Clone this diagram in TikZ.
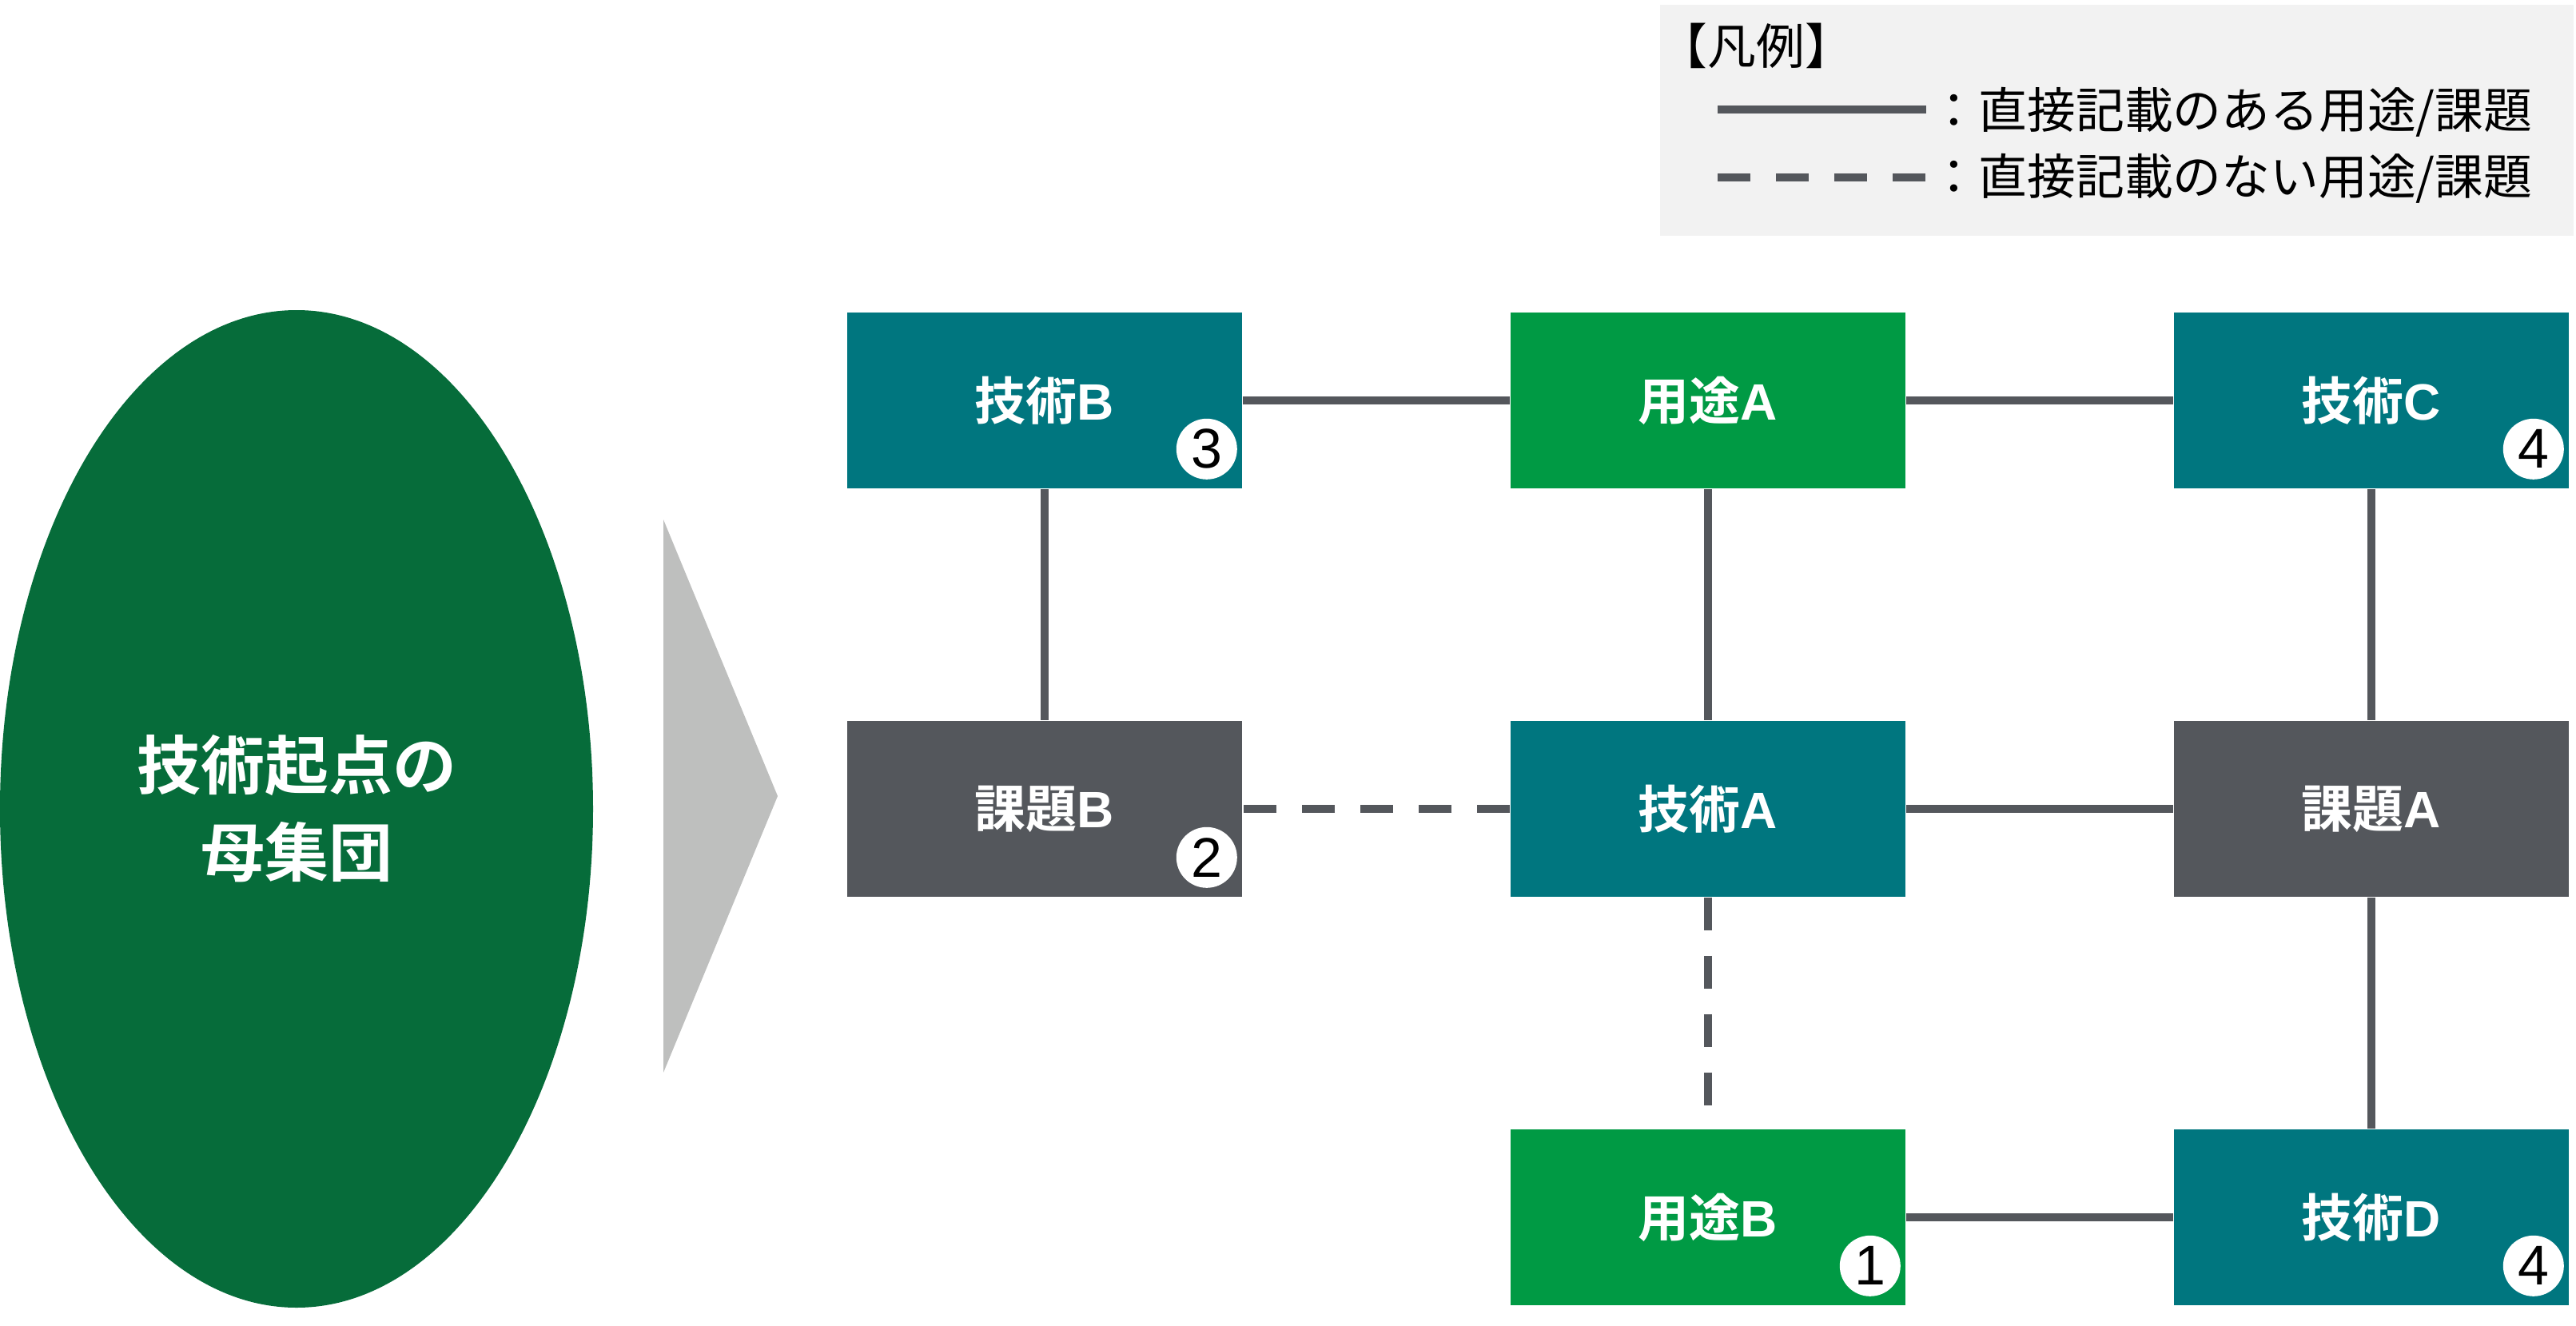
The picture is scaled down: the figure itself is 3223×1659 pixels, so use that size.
\documentclass[tikz,border=0pt]{standalone}
\usepackage{fontspec}
\usetikzlibrary{shapes.geometric,calc}
\newfontfamily\jp{Noto Sans CJK JP}[BoldFont={Noto Sans CJK JP Bold}]
\newfontfamily\numfont{Liberation Sans}
\newcommand\Lt[1]{{\numfont\bfseries #1}}
\definecolor{techc}{HTML}{00767F}
\definecolor{usec}{HTML}{009A44}
\definecolor{issuec}{HTML}{54575C}
\definecolor{linec}{HTML}{54575C}
\definecolor{ellc}{HTML}{066C3A}
\definecolor{tric}{HTML}{BEBFBE}
\definecolor{legbg}{HTML}{F2F2F2}
\begin{document}
\begin{tikzpicture}[x=0.25pt,y=-0.25pt,
  box/.style={rectangle, minimum width=123.5pt, minimum height=55pt, inner sep=0pt,
    font=\jp\bfseries\fontsize{16pt}{19pt}\selectfont, text=white},
  tech/.style={box, fill=techc},
  use/.style={box, fill=usec},
  issue/.style={box, fill=issuec},
  num/.style={circle, fill=white, minimum size=19pt, inner sep=0pt,
    font=\numfont\fontsize{17.5pt}{19pt}\selectfont, text=black},
  conn/.style={draw=linec, line width=2.5pt},
  dashconn/.style={conn, dash pattern=on 10.25pt off 8pt},
  legtext/.style={anchor=west, inner sep=0pt, font=\jp\fontsize{15.2pt}{18pt}\selectfont, text=black},
]
\useasboundingbox (0,0) rectangle (3223,1659);

% population ellipse and arrow
\node[ellipse, fill=ellc, minimum width=185.5pt, minimum height=312pt, inner sep=0pt,
  align=center, text=white, font=\jp\bfseries\fontsize{20pt}{27.25pt}\selectfont] (pop) at (371,1012) {技術起点の\\母集団};
\fill[tric] (830,650) -- (830,1342) -- (973,996) -- cycle;

% legend
\fill[legbg] (2077,6) rectangle (3220,295);
\node[legtext] (legt) at (2075,57) {【凡例】};
\coordinate (s1) at (2149,137); \coordinate (s2) at (2410,137);
\draw[conn] (s1) -- (s2);
\coordinate (d1) at (2149,222); \coordinate (d2) at (2411,222);
\draw[dashconn] (d1) -- (d2);
\node[legtext] (l1) at (2414,140) {：直接記載のある用途/課題};
\node[legtext] (l2) at (2414,223) {：直接記載のない用途/課題};

% boxes
\node[tech]  (tB) at (1307,501)  {技術\Lt{B}};
\node[use]   (uA) at (2137,501)  {用途\Lt{A}};
\node[tech]  (tC) at (2967,501)  {技術\Lt{C}};
\node[issue] (kB) at (1307,1012) {課題\Lt{B}};
\node[tech]  (tA) at (2137,1012) {技術\Lt{A}};
\node[issue] (kA) at (2967,1012) {課題\Lt{A}};
\node[use]   (uB) at (2137,1523) {用途\Lt{B}};
\node[tech]  (tD) at (2967,1523) {技術\Lt{D}};

% connectors
\draw[conn] (tB) -- (uA);
\draw[conn] (uA) -- (tC);
\draw[conn] (tB) -- (kB);
\draw[conn] (uA) -- (tA);
\draw[conn] (tC) -- (kA);
\draw[dashconn] (tA) -- (kB);
\draw[conn] (tA) -- (kA);
\draw[dashconn] (tA) -- (uB);
\draw[conn] (kA) -- (tD);
\draw[conn] (uB) -- (tD);

% number badges
\node[num] (n3) at ($(tB.south east)+(-45,-50)$) {3};
\node[num] (n2) at ($(kB.south east)+(-45,-50)$) {2};
\node[num] (n1) at ($(uB.south east)+(-45,-50)$) {1};
\node[num] (n4a) at ($(tC.south east)+(-45,-50)$) {4};
\node[num] (n4b) at ($(tD.south east)+(-45,-50)$) {4};
\end{tikzpicture}
\end{document}
